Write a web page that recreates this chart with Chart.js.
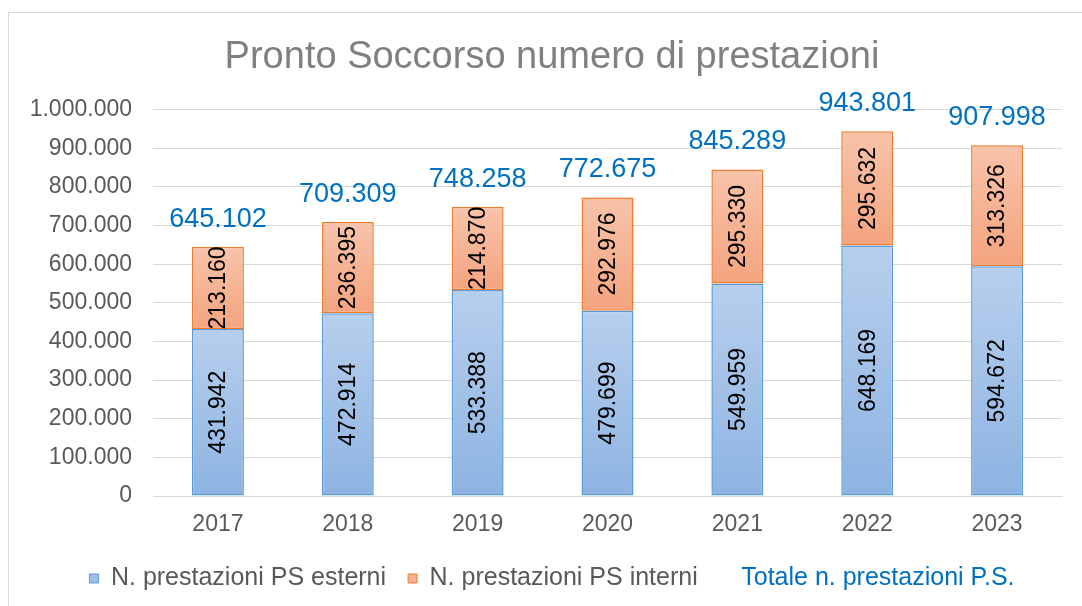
<!DOCTYPE html>
<html>
<head>
<meta charset="utf-8">
<title>Pronto Soccorso numero di prestazioni</title>
<script src="https://cdn.jsdelivr.net/npm/chart.js@4.4.1/dist/chart.umd.min.js"></script>
<style>
  html, body { margin: 0; padding: 0; background: #fff; overflow: hidden; }
  #wrap { position: relative; width: 1082px; height: 606px; }
</style>
</head>
<body>
<div id="wrap"><canvas id="chart"></canvas></div>
<script>
var years = ["2017", "2018", "2019", "2020", "2021", "2022", "2023"];
var esterni = [431942, 472914, 533388, 479699, 549959, 648169, 594672];
var interni = [213160, 236395, 214870, 292976, 295330, 295632, 313326];
var totali = [645102, 709309, 748258, 772675, 845289, 943801, 907998];
var yTicks = [0, 100000, 200000, 300000, 400000, 500000, 600000, 700000, 800000, 900000, 1000000];

var FONT = "'Liberation Sans', Arial, sans-serif";

function fmt(v) {
  return String(v).replace(/\B(?=(\d{3})+(?!\d))/g, ".");
}

// gradient per segment, lighter at the top like the Excel fill
function segGradient(ctx, top, bottom, light, dark) {
  var chart = ctx.chart;
  var y = chart.scales.y;
  if (!y || !chart.chartArea) return dark;
  var y0 = y.getPixelForValue(top);
  var y1 = y.getPixelForValue(bottom);
  if (!isFinite(y0) || !isFinite(y1) || y0 === y1) return dark;
  var g = chart.ctx.createLinearGradient(0, y0, 0, y1);
  g.addColorStop(0, light);
  g.addColorStop(1, dark);
  return g;
}

var frame = {
  id: "frame",
  beforeDraw: function(chart) {
    var c = chart.ctx;
    c.save();
    c.fillStyle = "#fff";
    c.fillRect(0, 0, chart.width, chart.height);
    c.strokeStyle = "#d9d9d9";
    c.lineWidth = 1;
    c.strokeRect(8.5, 12.5, chart.width + 20, chart.height + 20);
    c.restore();
  },
  // centre title and legend a bit right of the canvas middle, like the original
  afterLayout: function(chart) {
    if (chart.legend) chart.legend.left += 42;
    if (chart.titleBlock) chart.titleBlock.left += 42;
  }
};

var labels = {
  id: "labels",
  afterDatasetsDraw: function(chart) {
    var c = chart.ctx;
    c.save();
    c.font = "23px " + FONT;
    c.fillStyle = "#000";
    c.textAlign = "center";
    c.textBaseline = "middle";
    chart.data.datasets.forEach(function(ds, i) {
      chart.getDatasetMeta(i).data.forEach(function(bar, j) {
        c.save();
        c.translate(bar.x, (bar.y + bar.base) / 2);
        c.rotate(-Math.PI / 2);
        c.fillText(fmt(ds.data[j]), 0, 1);
        c.restore();
      });
    });
    var y = chart.scales.y;
    var x = chart.scales.x;
    c.font = "27px " + FONT;
    c.fillStyle = "#0070c0";
    c.textBaseline = "bottom";
    totali.forEach(function(t, j) {
      c.fillText(fmt(t), x.getPixelForValue(j), y.getPixelForValue(t) - 14);
    });
    c.restore();
  }
};

new Chart(document.getElementById("chart"), {
  type: "bar",
  data: {
    labels: years,
    datasets: [
      {
        label: "N. prestazioni PS esterni",
        data: esterni,
        backgroundColor: function(ctx) {
          return segGradient(ctx, esterni[ctx.dataIndex], 0, "#b7cfed", "#8db3e2");
        },
        borderColor: "#5b9bd5",
        borderWidth: 1.5,
        borderSkipped: false
      },
      {
        label: "N. prestazioni PS interni",
        data: interni,
        backgroundColor: function(ctx) {
          var b = esterni[ctx.dataIndex];
          return segGradient(ctx, b + interni[ctx.dataIndex], b, "#f8c3aa", "#f4a47f");
        },
        borderColor: "#ed7d31",
        borderWidth: 1.5,
        borderSkipped: false
      }
    ]
  },
  options: {
    responsive: true,
    maintainAspectRatio: false,
    animation: false,
    datasets: {
      bar: { categoryPercentage: 1, barPercentage: 0.4 }
    },
    layout: {
      padding: { left: 0, right: 20, top: 0, bottom: 5 }
    },
    scales: {
      x: {
        stacked: true,
        afterFit: function(axis) { axis.height = 48; },
        grid: { display: false, drawTicks: false },
        border: { display: true, color: "#d9d9d9", width: 1 },
        ticks: { color: "#595959", font: { family: FONT, size: 23 }, padding: 15 }
      },
      y: {
        stacked: true,
        min: 0,
        max: 1000000,
        afterBuildTicks: function(axis) {
          axis.ticks = yTicks.map(function(v) { return { value: v }; });
        },
        afterFit: function(axis) { axis.width = 153; },
        grid: { color: "#d9d9d9", lineWidth: 1, drawTicks: false },
        border: { display: false },
        ticks: {
          color: "#595959",
          font: { family: FONT, size: 23 },
          padding: 21,
          callback: function(v) { return fmt(v); }
        }
      }
    },
    plugins: {
      title: {
        display: true,
        text: "Pronto Soccorso numero di prestazioni",
        color: "#808080",
        font: { family: FONT, size: 38, weight: "normal" },
        padding: { top: 35, bottom: 29 }
      },
      legend: {
        position: "bottom",
        labels: {
          boxWidth: 9,
          boxHeight: 9,
          padding: 22,
          color: "#595959",
          font: { family: FONT, size: 25 },
          generateLabels: function() {
            return [
              { text: "N. prestazioni PS esterni", fillStyle: "#9dbfe8", strokeStyle: "#5b9bd5", lineWidth: 1, fontColor: "#595959", datasetIndex: 0 },
              { text: "N. prestazioni PS interni", fillStyle: "#f6b394", strokeStyle: "#ed7d31", lineWidth: 1, fontColor: "#595959", datasetIndex: 1 },
              { text: "Totale n. prestazioni P.S.", fillStyle: "rgba(0,0,0,0)", strokeStyle: "rgba(0,0,0,0)", lineWidth: 0, fontColor: "#0070c0" }
            ];
          }
        },
        onClick: function() {}
      },
      tooltip: { enabled: false }
    }
  },
  plugins: [frame, labels]
});
</script>
</body>
</html>
